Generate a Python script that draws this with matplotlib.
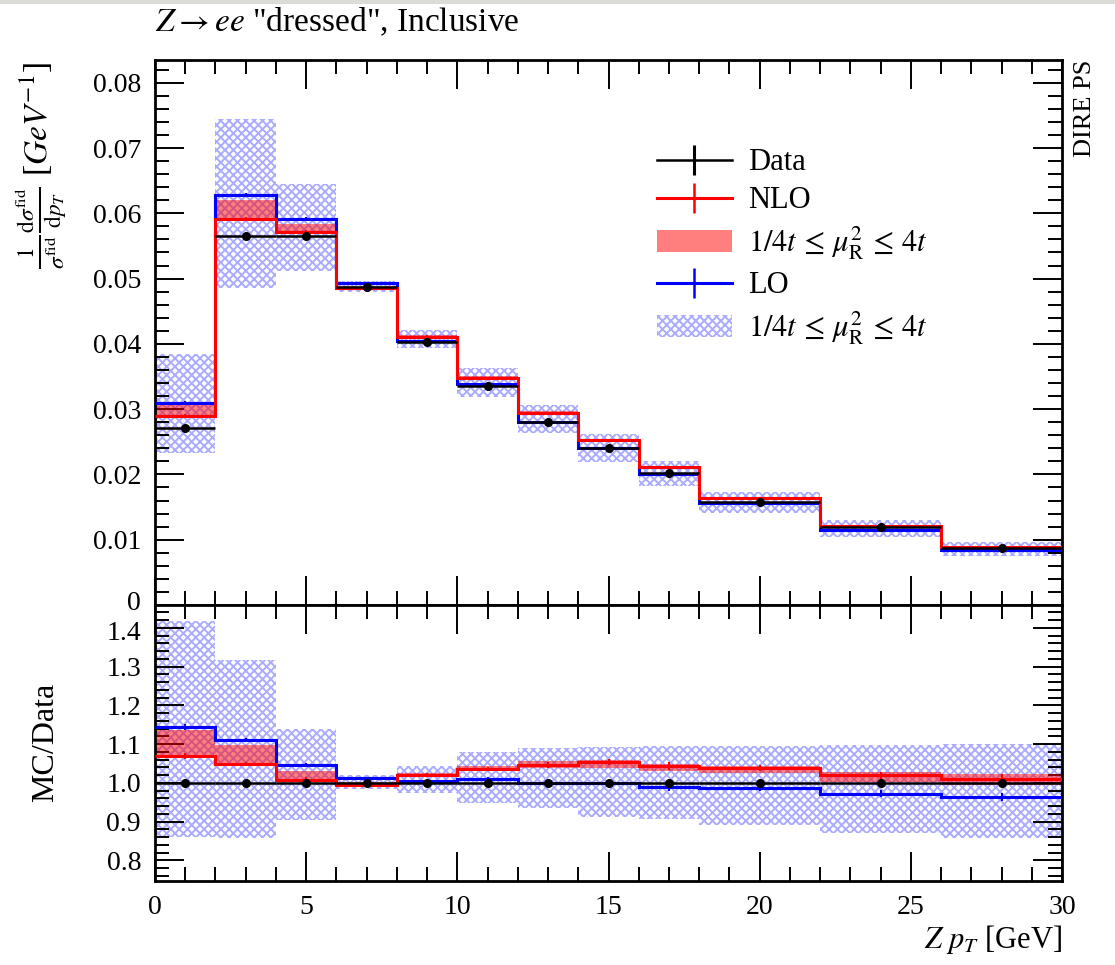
import numpy as np
import matplotlib.pyplot as plt
from matplotlib.lines import Line2D
from matplotlib.patches import Rectangle
from matplotlib.transforms import ScaledTranslation
from matplotlib.ticker import MultipleLocator, FuncFormatter

plt.rcParams['font.family'] = ['Liberation Serif', 'DejaVu Serif']
plt.rcParams['mathtext.fontset'] = 'stix'
plt.rcParams['hatch.linewidth'] = 1.4

# Z pT binning [GeV]
edges = np.array([0, 2, 4, 6, 8, 10, 12, 14, 16, 18, 22, 26, 30])

# normalised cross section, data
data = [0.0271, 0.0565, 0.0566, 0.0487, 0.0403, 0.0336, 0.0281, 0.0240,
        0.0202, 0.0158, 0.01187, 0.0088]
data_err = [0.0003, 0.0004, 0.0004, 0.0003, 0.0003, 0.0003, 0.0002, 0.0002,
            0.0002, 0.00015, 0.00012, 0.0001]

# NLO prediction and scale band
nlo = [0.0290, 0.0592, 0.0571, 0.0485, 0.0411, 0.0348, 0.0294, 0.0253,
       0.0211, 0.0164, 0.0121, 0.0089]
nlo_down = [0.0290, 0.0592, 0.0570, 0.0484, 0.0409, 0.0346, 0.0292, 0.0249,
            0.0208, 0.0162, 0.0119, 0.00875]
nlo_up = [0.0308, 0.0620, 0.0583, 0.0488, 0.0413, 0.0351, 0.0297, 0.0254,
          0.0212, 0.0165, 0.0122, 0.0090]
nlo_err = [0.0002, 0.0003, 0.0003, 0.0002, 0.0002, 0.0002, 0.0002, 0.0002,
           0.0002, 0.00012, 0.0001, 0.0001]

# LO prediction and scale band
lo = [0.0310, 0.0628, 0.0592, 0.0493, 0.0405, 0.0339, 0.0281, 0.0240,
      0.0200, 0.0156, 0.01154, 0.00848]
lo_down = [0.0233, 0.0485, 0.0512, 0.0480, 0.0393, 0.0319, 0.0263, 0.0219,
           0.0183, 0.0141, 0.01034, 0.00755]
lo_up = [0.0384, 0.0744, 0.0645, 0.0497, 0.0421, 0.0363, 0.0306, 0.0262,
         0.0221, 0.0173, 0.01303, 0.00968]
lo_err = [0.0002, 0.0003, 0.0003, 0.0002, 0.0002, 0.0002, 0.0002, 0.0002,
          0.0002, 0.00012, 0.0001, 0.0001]

band_label = r'$1/4t\,\leq\,\mu_{\mathrm{R}}^{2}\,\leq\,4t$'

centres = 0.5 * (edges[1:] + edges[:-1])
halfw = 0.5 * np.diff(edges)
d = np.array(data)

fig = plt.figure(figsize=(11.15, 9.65), dpi=100)
ax1 = fig.add_axes([0.139, 0.3731, 0.8135, 0.5648])
ax2 = fig.add_axes([0.139, 0.0870, 0.8135, 0.2861], sharex=ax1)


def draw(ax, scale):
    s = np.asarray(scale)
    ax.stairs(np.array(lo_up) / s, edges, baseline=np.array(lo_down) / s,
              fill=True, facecolor='none', edgecolor=(0.4, 0.4, 1.0, 0.55),
              hatch='xxxx', linewidth=0, zorder=1, label=band_label)
    ax.stairs(np.array(nlo_up) / s, edges, baseline=np.array(nlo_down) / s,
              fill=True, color=(1.0, 0.0, 0.0, 0.5), linewidth=0, zorder=2,
              label=band_label)
    ax.stairs(np.array(lo) / s, edges, baseline=None, color='blue',
              linewidth=2.2, zorder=3)
    ax.errorbar(centres, np.array(lo) / s, yerr=np.array(lo_err) / s,
                fmt='none', ecolor='blue', elinewidth=1.5, zorder=3)
    ax.stairs(np.array(nlo) / s, edges, baseline=None, color='red',
              linewidth=2.2, zorder=4)
    ax.errorbar(centres, np.array(nlo) / s, yerr=np.array(nlo_err) / s,
                fmt='none', ecolor='red', elinewidth=1.5, zorder=4)
    ax.errorbar(centres, d / s, xerr=halfw, yerr=np.array(data_err) / s,
                fmt='o', color='black', ms=5.5, elinewidth=1.8, capsize=0,
                zorder=5)


def style(ax, ymajor, yminor):
    ax.xaxis.set_major_locator(MultipleLocator(5))
    ax.xaxis.set_minor_locator(MultipleLocator(1))
    ax.yaxis.set_major_locator(MultipleLocator(ymajor))
    ax.yaxis.set_minor_locator(MultipleLocator(yminor))
    ax.tick_params(which='both', direction='in', top=True, right=True,
                   width=1.4, labelsize=20, pad=10)
    ax.tick_params(which='major', length=21)
    ax.tick_params(which='minor', length=10)
    for sp in ax.spines.values():
        sp.set_linewidth(2)


draw(ax1, np.ones(len(data)))
draw(ax2, d)

style(ax1, 0.01, 0.002)
style(ax2, 0.1, 0.02)
ax1.set_xlim(0, 30)
ax1.set_ylim(0, 0.0835)
ax2.set_ylim(0.747, 1.459)
ax1.tick_params(labelbottom=False)
ax1.yaxis.set_major_formatter(FuncFormatter(lambda v, p: '0' if abs(v) < 1e-9 else '%.2f' % v))
ax2.yaxis.set_major_formatter(FuncFormatter(lambda v, p: '%.1f' % v))

# the "0" of the upper panel and "1.4" of the ratio sit close together
fig.canvas.draw()
for t in ax1.yaxis.get_major_ticks():
    if abs(t.get_loc()) < 1e-9:
        t.label1.set_transform(t.label1.get_transform()
                               + ScaledTranslation(0, 4 / 100, fig.dpi_scale_trans))
for t in ax2.yaxis.get_major_ticks():
    if abs(t.get_loc() - 1.4) < 1e-9:
        t.label1.set_transform(t.label1.get_transform()
                               + ScaledTranslation(0, -3 / 100, fig.dpi_scale_trans))

ax2.set_xlabel(r'$Z\ p_T$ [GeV]', fontsize=22, loc='right', labelpad=2)
fig.text(46 / 1115, 1 - 742 / 965, 'MC/Data', rotation=90, fontsize=23,
         ha='center', va='center')
fig.text(41 / 1115, 1 - 62 / 965,
         r'$\frac{1}{\sigma^{\mathrm{fid}}}\frac{\mathrm{d}\sigma^{\mathrm{fid}}}{\mathrm{d}p_T}$ [$GeV^{-1}$]',
         rotation=90, fontsize=24, ha='center', va='top')
fig.text(155 / 1115, 1 - 22 / 965, r'$Z \rightarrow ee$ "dressed", Inclusive',
         fontsize=24, ha='left', va='center')
fig.text(1085 / 1115, 1 - 60 / 965, 'DIRE PS', rotation=90, fontsize=19,
         ha='center', va='top')
fig.add_artist(Rectangle((0, 1 - 4 / 965), 1, 4 / 965, transform=fig.transFigure,
                         color='#d9ddd5', lw=0))

# legend with line+tick markers for the histograms
h, l = ax1.get_legend_handles_labels()
handles = [
    Line2D([], [], color='black', lw=1.8, marker='|', ms=22, mew=2.2),
    Line2D([], [], color='red', lw=2.2, marker='|', ms=22, mew=1.8),
    h[1],
    Line2D([], [], color='blue', lw=2.2, marker='|', ms=22, mew=1.8),
    h[0],
]
labels = ['Data', 'NLO', band_label, 'LO', band_label]
ax1.legend(handles, labels, loc='upper left',
           bbox_to_anchor=(0.553, 0.838), frameon=False, fontsize=22,
           handlelength=2.48, handletextpad=0.5, labelspacing=0.3,
           borderpad=0, borderaxespad=0)

fig.savefig('out.png', dpi=100)
